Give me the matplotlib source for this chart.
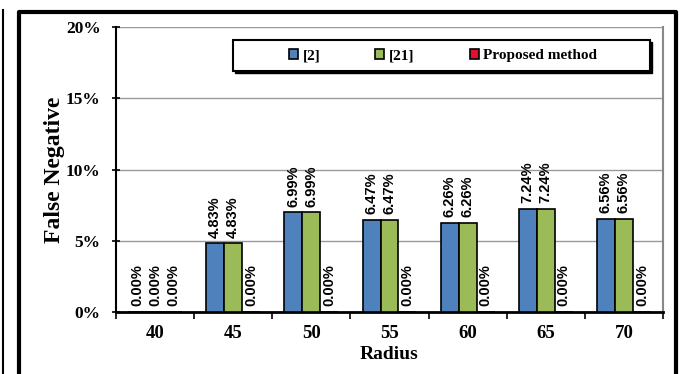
import numpy as np
import matplotlib.pyplot as plt
from matplotlib.patches import Rectangle
from matplotlib.lines import Line2D

radius = ['40', '45', '50', '55', '60', '65', '70']
ref2 = [0.00, 4.83, 6.99, 6.47, 6.26, 7.24, 6.56]
ref21 = [0.00, 4.83, 6.99, 6.47, 6.26, 7.24, 6.56]
proposed = [0.00, 0.00, 0.00, 0.00, 0.00, 0.00, 0.00]
series_names = ['[2]', '[21]', 'Proposed method']
colors = ['#4F81BD', '#9BBB59', '#E0102F']

serif = 'Liberation Serif'
sans = 'Liberation Sans'

fig = plt.figure(figsize=(6.81, 3.74), dpi=100)
ax = fig.add_axes([116 / 681, 1 - 312 / 374, 547 / 681, 285 / 374])

x = np.arange(len(radius))
w = 0.23
for k, (vals, name, c) in enumerate(zip([ref2, ref21, proposed], series_names, colors)):
    bars = ax.bar(x + (k - 1) * w, vals, w, color=c, edgecolor='black',
                  linewidth=1.2, label=name, zorder=3)
    for b, v in zip(bars, vals):
        ax.annotate(f'{v:.2f}%', (b.get_x() + b.get_width() / 2, v),
                    xytext=(0, 4), textcoords='offset points', rotation=90,
                    ha='center', va='bottom', fontsize=10.5, fontweight='bold',
                    family=sans, color='black', zorder=4)

ax.set_xlim(-0.5, len(radius) - 0.5)
ax.set_ylim(0, 20)
ax.set_yticks([0, 5, 10, 15, 20])
ax.set_yticklabels([f'{t}%' for t in [0, 5, 10, 15, 20]], fontsize=12.5,
                   fontweight='bold', family=serif)
ax.set_xticks(x)
ax.set_xticklabels(radius, fontsize=13.5, fontweight='bold', family=serif)
ax.set_xticks(np.arange(len(radius) + 1) - 0.5, minor=True)
ax.tick_params(axis='x', which='major', length=0, pad=9)
ax.tick_params(axis='x', which='minor', length=5, width=1.2, direction='out')
ax.tick_params(axis='y', length=6, width=1.2, direction='inout', pad=8)

ax.grid(axis='y', color='#999999', linewidth=1, zorder=0)
ax.set_axisbelow(True)
ax.spines['top'].set_visible(False)
ax.spines['right'].set_color('#888888')
ax.spines['right'].set_linewidth(1.5)
ax.spines['left'].set_linewidth(1.5)
ax.spines['bottom'].set_linewidth(2)

ax.set_xlabel('Radius', fontsize=14, fontweight='bold', family=serif, labelpad=3)
ax.set_ylabel('False Negative', fontsize=17, fontweight='bold', family=serif, labelpad=1)

# legend box with shadow
x0, y0 = (233 - 116) / 547, (312 - 71) / 285
bw, bh = (650 - 233) / 547, (71 - 40) / 285
ax.add_patch(Rectangle((x0 + 0.004, y0 - 0.008), bw, bh, transform=ax.transAxes,
                       facecolor='black', edgecolor='black', zorder=5, clip_on=False))
ax.add_patch(Rectangle((x0, y0), bw, bh, transform=ax.transAxes,
                       facecolor='white', edgecolor='black', linewidth=1.5,
                       zorder=6, clip_on=False))
leg = ax.legend(loc='center', bbox_to_anchor=((443 - 116) / 547, (312 - 55.5) / 285),
                ncol=3, frameon=False, handlelength=0.6, handleheight=0.6,
                handletextpad=0.3, columnspacing=3.6,
                prop={'family': serif, 'weight': 'bold', 'size': 11})
leg.set_zorder(7)

# outer frame
fig.add_artist(Line2D([3 / 681, 3 / 681], [0, 1 - 10 / 374], color='black', linewidth=1.5))
fig.add_artist(Line2D([19 / 681, 19 / 681, 676 / 681, 676 / 681],
                      [0, 1 - 12 / 374, 1 - 12 / 374, 0], color='black', linewidth=3))

fig.savefig('out.png', dpi=100)
